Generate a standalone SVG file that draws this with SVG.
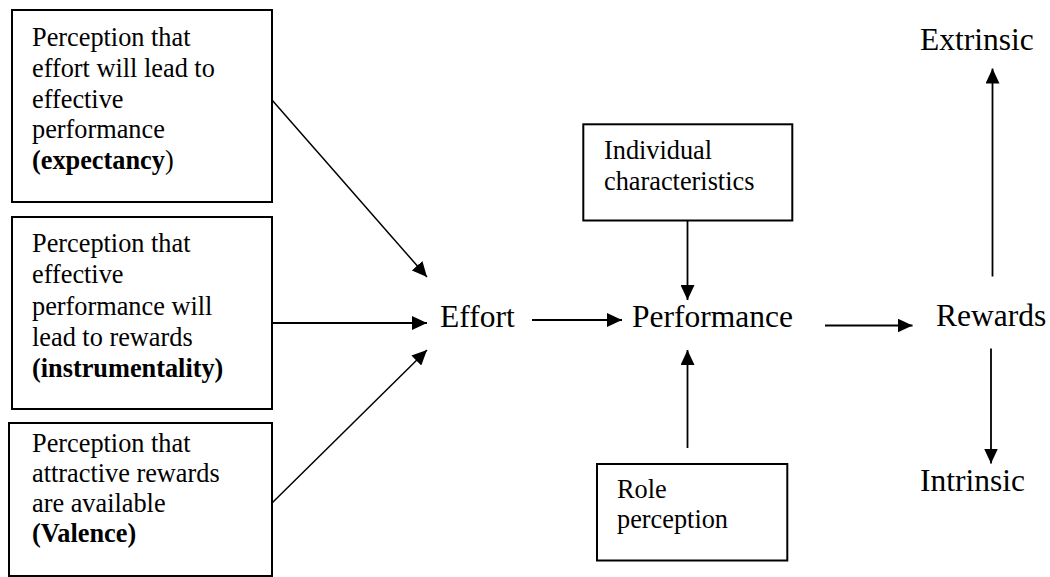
<svg xmlns="http://www.w3.org/2000/svg" width="1050" height="577" viewBox="0 0 1050 577">
<style>
.box{fill:#fff;stroke:#000;stroke-width:2}
.t{font-family:'Liberation Serif','Times New Roman',Times,Tinos,'DejaVu Serif',serif;font-size:26.3px;fill:#000}
.big{font-family:'Liberation Serif','Times New Roman',Times,Tinos,'DejaVu Serif',serif;font-size:31.5px;fill:#000}
.b{font-weight:bold}
.c{stroke:#000;stroke-width:1.8;fill:none;marker-end:url(#ah)}
.d{stroke-width:1.5}
</style>
<defs>
<marker id="ah" viewBox="0 0 15 14" refX="15" refY="7" markerWidth="15" markerHeight="14" markerUnits="userSpaceOnUse" orient="auto">
<path d="M0,0 L15,7 L0,14 Z" fill="#000"/>
</marker>
</defs>
<rect width="1050" height="577" fill="#fff"/>
<g id="expectancy">
<rect class="box" x="12" y="10" width="260" height="192"/>
<text class="t" x="32" y="45.7">Perception that</text>
<text class="t" x="32" y="76.7">effort will lead to</text>
<text class="t" x="32" y="107.5">effective</text>
<text class="t" x="32" y="138.3">performance</text>
<text class="t" x="32" y="169"><tspan class="b">(expectancy</tspan><tspan>)</tspan></text>
</g>
<g id="instrumentality">
<rect class="box" x="12" y="217" width="260" height="192"/>
<text class="t" x="32" y="252">Perception that</text>
<text class="t" x="32" y="283">effective</text>
<text class="t" x="32" y="315">performance will</text>
<text class="t" x="32" y="346">lead to rewards</text>
<text class="t b" x="32" y="377">(instrumentality)</text>
</g>
<g id="valence">
<rect class="box" x="9" y="423" width="263" height="153"/>
<text class="t" x="32" y="451.7">Perception that</text>
<text class="t" x="32" y="481.7">attractive rewards</text>
<text class="t" x="32" y="511.7">are available</text>
<text class="t b" x="32" y="541.7">(Valence)</text>
</g>
<g id="effort"><text class="big" x="440" y="326.5">Effort</text></g>
<g id="performance"><text class="big" x="632" y="326.5">Performance</text></g>
<g id="individual">
<rect class="box" x="583.3" y="124.3" width="209" height="96.2"/>
<text class="t" x="604" y="158.5">Individual</text>
<text class="t" x="604" y="190">characteristics</text>
</g>
<g id="role">
<rect class="box" x="597" y="464" width="190.3" height="96.5"/>
<text class="t" x="617" y="498">Role</text>
<text class="t" x="617" y="528">perception</text>
</g>
<g id="rewards"><text class="big" x="936" y="325.5">Rewards</text></g>
<g id="extrinsic"><text class="big" x="920" y="50">Extrinsic</text></g>
<g id="intrinsic"><text class="big" x="920" y="490.5">Intrinsic</text></g>
<g id="connectors">
<line class="c d" x1="272" y1="100" x2="427" y2="277"/>
<line class="c" x1="272" y1="323" x2="427" y2="323"/>
<line class="c d" x1="272" y1="503" x2="427" y2="350"/>
<line class="c" x1="532" y1="320" x2="622" y2="320"/>
<line class="c" x1="687.5" y1="220.5" x2="687.5" y2="300"/>
<line class="c" x1="687.5" y1="448" x2="687.5" y2="350"/>
<line class="c" x1="825" y1="325.5" x2="912.5" y2="325.5"/>
<line class="c" x1="992.5" y1="276.5" x2="992.5" y2="68.5"/>
<line class="c" x1="991" y1="348.5" x2="991" y2="463.5"/>
</g>
</svg>
